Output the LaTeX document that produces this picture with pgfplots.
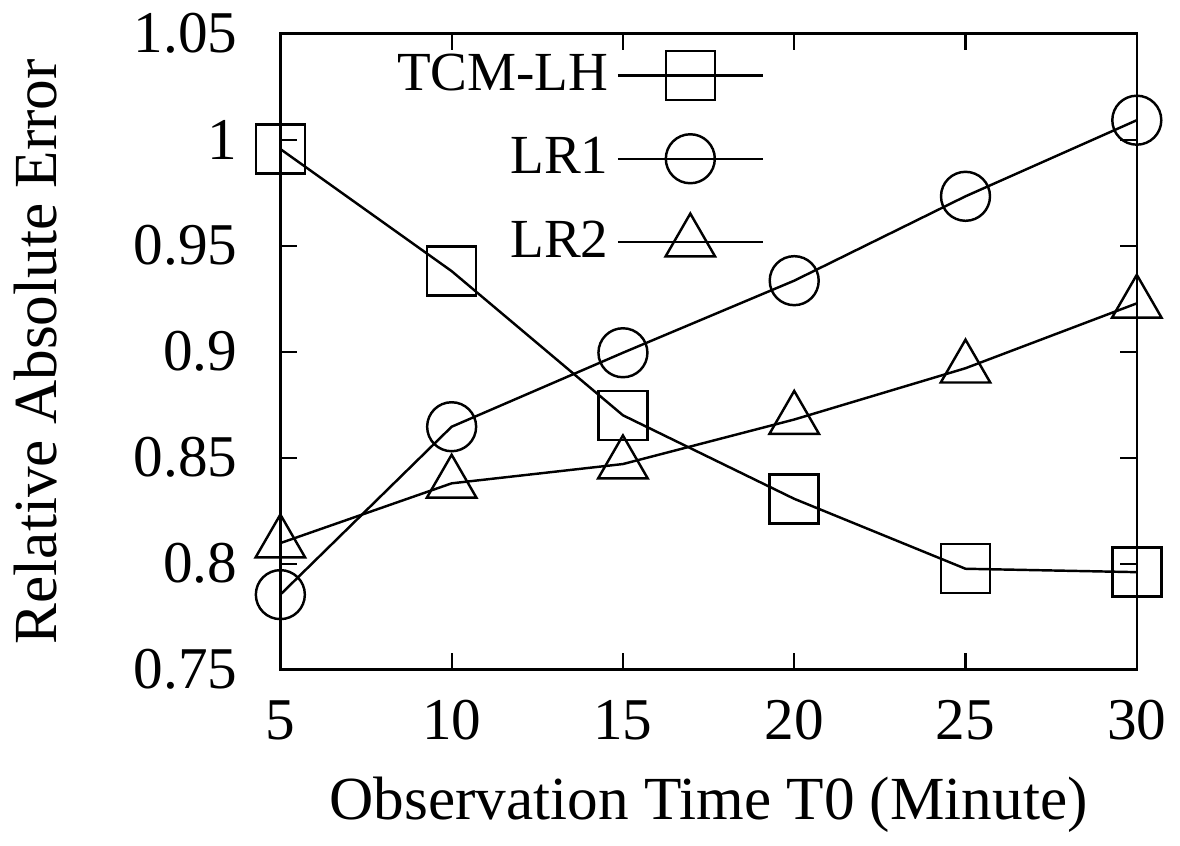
\documentclass[border=0pt]{standalone}
\usepackage{pgfplots}
\pgfplotsset{compat=1.18}
\usepackage{fontspec}
\setmainfont{Liberation Serif}

\begin{document}
\begin{tikzpicture}
\begin{axis}[
  scale only axis,
  width=209.75pt, height=155.75pt,
  xmin=5, xmax=30, ymin=0.75, ymax=1.05,
  xtick={5,10,15,20,25,30},
  ytick={0.75,0.8,0.85,0.9,0.95,1,1.05},
  tick align=inside,
  major tick length=4pt,
  axis line style={line width=0.6pt},
  tick style={line width=0.5pt, black},
  font=\fontsize{14.5}{17}\selectfont,
  label style={font=\fontsize{15}{18}\selectfont},
  /pgf/number format/assume math mode=true,
  yticklabel style={/pgf/number format/fixed, /pgf/number format/precision=2,
    xshift=-7pt},
  xticklabel style={yshift=-4pt},
  xlabel={Observation Time T0 (Minute)},
  ylabel={Relative Absolute Error},
  xlabel style={yshift=-2pt},
  ylabel style={yshift=12pt},
  legend style={draw=none, fill=none, at={(0.58,0.995)}, anchor=north east,
    font=\fontsize{13.5}{16}\selectfont, row sep=6pt},
  legend cell align=right,
  legend plot pos=right,
  legend image code/.code={
    \draw[#1, mark repeat=2, mark phase=2]
      plot coordinates {(0pt,0pt) (17.75pt,0pt) (35.5pt,0pt)};},
  every axis plot/.append style={black, line width=0.6pt,
    mark options={solid, fill=none, line width=0.6pt}},
]
\addplot[mark=square, mark size=6pt] coordinates {
  (5,0.9956) (10,0.938) (15,0.870) (20,0.8306) (25,0.7976) (30,0.796)};
\addlegendentry{TCM-LH}
\addplot[mark=o, mark size=6pt] coordinates {
  (5,0.7854) (10,0.8646) (15,0.8995) (20,0.9335) (25,0.9733) (30,1.0092)};
\addlegendentry{LR1}
\addplot[mark=triangle, mark size=7pt] coordinates {
  (5,0.8097) (10,0.8379) (15,0.847) (20,0.868) (25,0.8922) (30,0.9228)};
\addlegendentry{LR2}
\end{axis}
\end{tikzpicture}
\end{document}
